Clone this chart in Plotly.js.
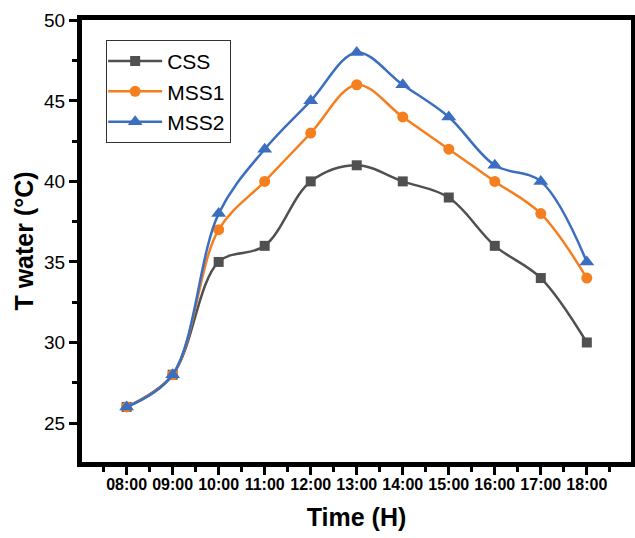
<!DOCTYPE html>
<html><head><meta charset="utf-8">
<script src="https://cdn.plot.ly/plotly-3.0.1.min.js"></script>
<style>body{margin:0;padding:0;background:#fff}#chart{width:635px;height:538px}</style>
</head><body><div id="chart"></div>
<script>
const categories = ["08:00","09:00","10:00","11:00","12:00","13:00","14:00","15:00","16:00","17:00","18:00"];
const css  = [26, 28, 35, 36, 40, 41, 40, 39, 36, 34, 30];
const mss1 = [26, 28, 37, 40, 43, 46, 44, 42, 40, 38, 34];
const mss2 = [26, 28, 38, 42, 45, 48, 46, 44, 41, 40, 35];
const yTicks = [25, 30, 35, 40, 45, 50];

const xIdx = categories.map((c, i) => i);
function tr(name, y, color, symbol, size) {
  return {x: xIdx, y: y, name: name, type: 'scatter', mode: 'lines+markers',
    line: {color: color, width: 2.5, shape: 'spline', smoothing: 1},
    marker: {color: color, symbol: symbol, size: size}};
}
const data = [
  tr('CSS', css, '#505050', 'square', 10),
  tr('MSS1', mss1, '#F57F1E', 'circle', 11),
  tr('MSS2', mss2, '#3C6EBF', 'triangle-up', 13)
];
const layout = {
  width: 635, height: 538,
  margin: {l: 82, r: 4, t: 20, b: 76},
  paper_bgcolor: '#fff', plot_bgcolor: '#fff',
  font: {family: 'Liberation Sans, Arial, sans-serif', color: '#000'},
  showlegend: true,
  legend: {x: 0.044, y: 0.955, xanchor: 'left', yanchor: 'top',
    bordercolor: '#333', borderwidth: 1, bgcolor: '#fff',
    font: {size: 21, color: '#000'}, tracegroupgap: 0, itemwidth: 50},
  xaxis: {
    range: [-0.97, 10.96], tickmode: 'array', tickvals: xIdx, ticktext: categories,
    showgrid: false, zeroline: false,
    showline: true, linewidth: 5, linecolor: '#000', mirror: true,
    ticks: 'outside', ticklen: 8, tickwidth: 3, tickcolor: '#000', ticklabelstandoff: -4,
    minor: {tickmode: 'linear', tick0: -0.5, dtick: 1, ticks: 'outside', ticklen: 5, tickwidth: 3, tickcolor: '#000', showgrid: false},
    tickfont: {size: 16, family: 'Liberation Sans, Arial, sans-serif', weight: 'bold'},
    title: {text: '<b>Time (H)</b>', font: {size: 25}, standoff: 18}
  },
  yaxis: {
    range: [22.58, 50.02], tickmode: 'array', tickvals: yTicks,
    showgrid: false, zeroline: false,
    showline: true, linewidth: 5, linecolor: '#000', mirror: true,
    ticks: 'outside', ticklen: 8, tickwidth: 3, tickcolor: '#000',
    minor: {tickmode: 'linear', tick0: 22.5, dtick: 5, ticks: 'outside', ticklen: 5, tickwidth: 3, tickcolor: '#000', showgrid: false},
    tickfont: {size: 19},
    title: {text: '<b>T water (°C)</b>', font: {size: 25}, standoff: 5}
  }
};
Plotly.newPlot('chart', data, layout, {displayModeBar: false, staticPlot: true}).then(function (gd) {
  // lengthen the legend line samples and centre their symbols on them
  gd.querySelectorAll('.legend .traces').forEach(function (g) {
    g.querySelectorAll('.legendlines path').forEach(function (p) { p.setAttribute('d', 'M1,0h54'); });
    g.querySelectorAll('.legendpoints path').forEach(function (p) { p.setAttribute('transform', 'translate(28,0)'); });
  });
});
</script></body></html>
